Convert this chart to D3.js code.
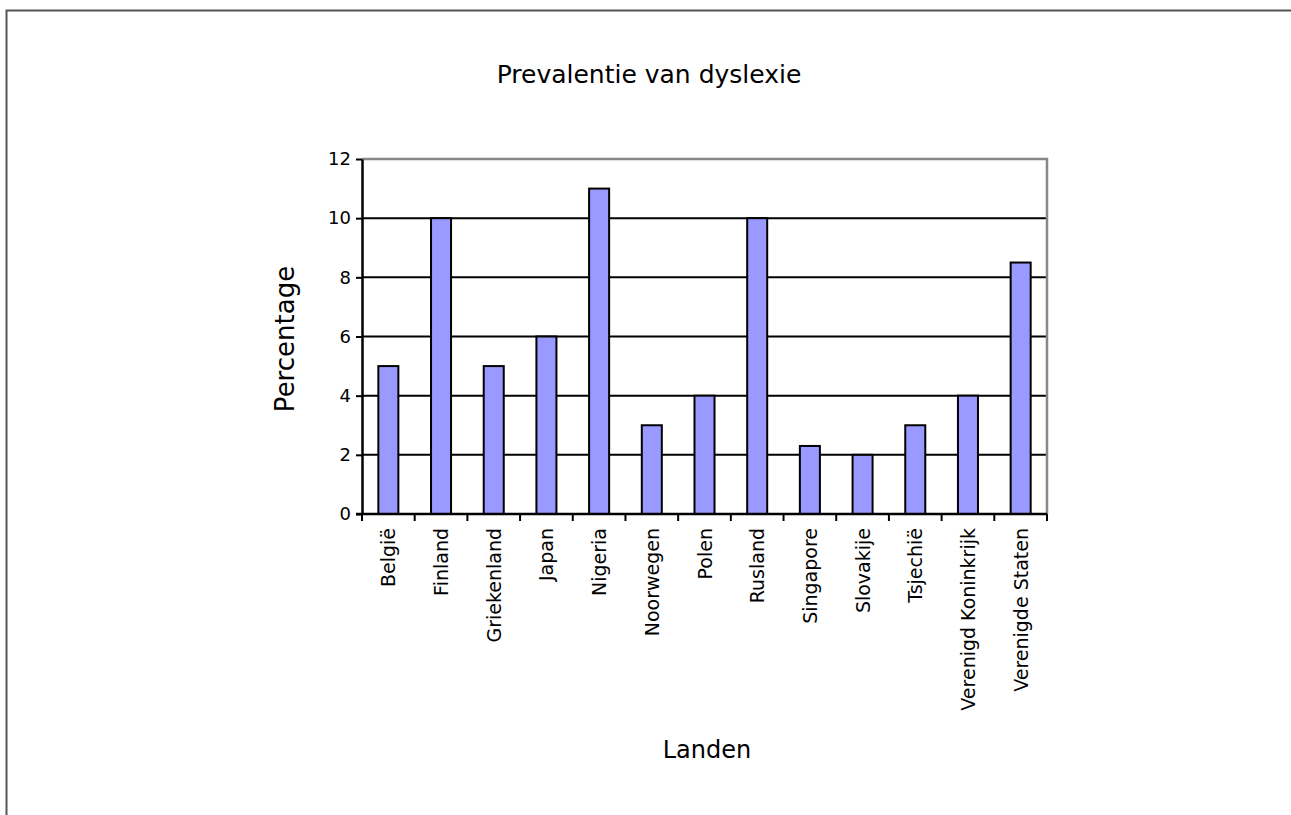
<!DOCTYPE html><meta charset="utf-8">
<style>*{margin:0}body{background:#fff}text{font-family:"Comic Sans MS","DejaVu Sans",sans-serif;fill:#000}</style>
<svg width="1291" height="815"></svg>
<script src="https://d3js.org/d3.v7.min.js"></script>
<script>
const landen = ["België","Finland","Griekenland","Japan","Nigeria","Noorwegen","Polen",
                "Rusland","Singapore","Slovakije","Tsjechië","Verenigd Koninkrijk","Verenigde Staten"];
const percentage = [5,10,5,6,11,3,4,10,2.3,2,3,4,8.5];
const yTicks = [0,2,4,6,8,10,12];

const svg = d3.select("svg"),
      L = 362, R = 1047, T = 159, B = 514;

svg.append("rect")                          // outer frame
   .attr("x",6.5).attr("y",10.5).attr("width",1400).attr("height",900)
   .attr("fill","none").attr("stroke","#555").attr("stroke-width",2);

const x = d3.scaleBand().domain(landen).range([L,R]).paddingInner(0.62).paddingOuter(0.31),
      xb = d3.scaleBand().domain(landen).range([L,R]),
      y = d3.scaleLinear().domain([0,12]).range([B,T]);

// grid
svg.append("g").selectAll("line").data(yTicks.filter(d=>d>0&&d<12)).join("line")
   .attr("x1",L).attr("x2",R).attr("y1",d=>y(d)).attr("y2",d=>y(d))
   .attr("stroke","#000").attr("stroke-width",2);
svg.append("path").attr("d",`M${L},${y(12)}H${R}V${B}`)
   .attr("fill","none").attr("stroke","#888").attr("stroke-width",2.5);

// bars
svg.append("g").selectAll("rect").data(landen).join("rect")
   .attr("x",d=>x(d)).attr("width",x.bandwidth())
   .attr("y",(d,i)=>y(percentage[i])).attr("height",(d,i)=>B-y(percentage[i]))
   .attr("fill","#9999ff").attr("stroke","#000").attr("stroke-width",2);

// y axis
const ya = svg.append("g").attr("transform",`translate(${L},0)`)
   .call(d3.axisLeft(y).tickValues(yTicks).tickSize(6).tickPadding(5).tickSizeOuter(0));
ya.select(".domain").attr("stroke","#000").attr("stroke-width",2.5);
ya.selectAll(".tick line").attr("stroke","#000").attr("stroke-width",2);
ya.selectAll("text").style("font-size","18px");

// x axis
svg.append("line").attr("x1",L-6).attr("x2",R).attr("y1",B).attr("y2",B)
   .attr("stroke","#000").attr("stroke-width",2.5);
svg.append("g").selectAll("line").data(landen.concat([null])).join("line")
   .attr("x1",d=>d?xb(d):R).attr("x2",d=>d?xb(d):R).attr("y1",B).attr("y2",B+7)
   .attr("stroke","#000").attr("stroke-width",2);
svg.append("g").selectAll("text").data(landen).join("text")
   .attr("transform",d=>`translate(${x(d)+x.bandwidth()/2+7},${B+14}) rotate(-90)`)
   .attr("text-anchor","end").style("font-size","19px").text(d=>d);

// titles
svg.append("text").attr("x",649).attr("y",83).attr("text-anchor","middle")
   .style("font-size","25px").text("Prevalentie van dyslexie");
svg.append("text").attr("transform","translate(294,339) rotate(-90)").attr("text-anchor","middle")
   .style("font-size","26px").text("Percentage");
svg.append("text").attr("x",707).attr("y",758).attr("text-anchor","middle")
   .style("font-size","24px").text("Landen");
</script>
